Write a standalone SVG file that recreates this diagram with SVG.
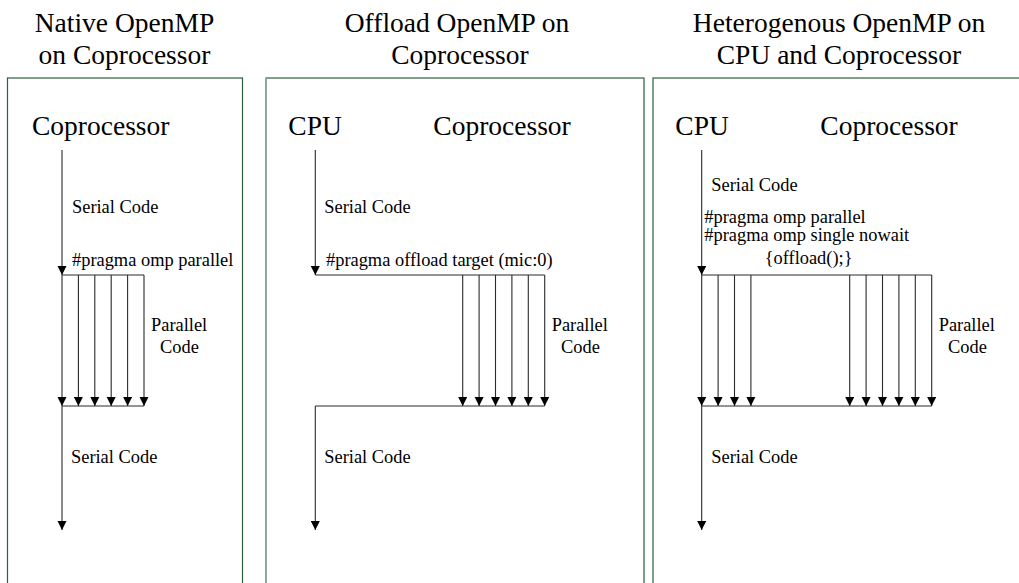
<svg xmlns="http://www.w3.org/2000/svg" width="1019" height="583" viewBox="0 0 1019 583">
  <style>
    text { font-family: "Liberation Serif", "DejaVu Serif", serif; fill: #000; }
    .title { font-size: 27.5px; text-anchor: middle; }
    .head { font-size: 27.5px; }
    .lbl { font-size: 18.4px; }
    .panel { fill: none; stroke: #2f5e3f; stroke-width: 1.2; }
    .flow { fill: none; stroke: #2a2a2a; stroke-width: 1.1; }
    .arr { marker-end: url(#tip); }
  </style>
  <defs>
    <marker id="tip" viewBox="0 0 10 10" refX="10" refY="5" markerWidth="9.5" markerHeight="9.5" markerUnits="userSpaceOnUse" orient="auto">
      <path d="M0,0 L10,5 L0,10 z" fill="#000"/>
    </marker>
  </defs>

  <rect width="1019" height="583" fill="#fff"/>

  <!-- Native OpenMP on the coprocessor -->
  <g id="panel-native">
    <text class="title" x="124.5" y="32">Native OpenMP</text>
    <text class="title" x="124.5" y="64">on Coprocessor</text>
    <rect class="panel" x="7.5" y="78" width="235" height="520"/>
    <text class="head" x="32" y="135">Coprocessor</text>
    <text class="lbl" x="72" y="212.7">Serial Code</text>
    <text class="lbl" x="72" y="265.7">#pragma omp parallel</text>
    <text class="lbl" x="151" y="331">Parallel</text>
    <text class="lbl" x="160" y="352.7">Code</text>
    <text class="lbl" x="71" y="462.7">Serial Code</text>
  </g>

  <!-- Offload OpenMP on the coprocessor -->
  <g id="panel-offload">
    <text class="title" x="457" y="32">Offload OpenMP on</text>
    <text class="title" x="460" y="64">Coprocessor</text>
    <rect class="panel" x="266" y="78" width="378" height="520"/>
    <line x1="266" y1="78" x2="266" y2="583" stroke="#8fa597" stroke-width="2"/>
    <text class="head" x="288.3" y="135">CPU</text>
    <text class="head" x="433.3" y="135">Coprocessor</text>
    <text class="lbl" x="324.3" y="212.7">Serial Code</text>
    <text class="lbl" x="326" y="265.7">#pragma offload target (mic:0)</text>
    <text class="lbl" x="551.7" y="331">Parallel</text>
    <text class="lbl" x="561" y="352.7">Code</text>
    <text class="lbl" x="324.3" y="462.7">Serial Code</text>
  </g>

  <!-- Heterogeneous OpenMP on CPU and coprocessor -->
  <g id="panel-hetero">
    <text class="title" x="839" y="32">Heterogenous OpenMP on</text>
    <text class="title" x="839" y="64">CPU and Coprocessor</text>
    <rect class="panel" x="653" y="78" width="380" height="520"/>
    <text class="head" x="675.3" y="135">CPU</text>
    <text class="head" x="820.3" y="135">Coprocessor</text>
    <text class="lbl" x="711.3" y="191">Serial Code</text>
    <text class="lbl" x="704.3" y="222.7">#pragma omp parallel</text>
    <text class="lbl" x="704.3" y="241.3">#pragma omp single nowait</text>
    <text class="lbl" x="764.7" y="264.3">{offload();}</text>
    <text class="lbl" x="938.7" y="331">Parallel</text>
    <text class="lbl" x="948" y="352.7">Code</text>
    <text class="lbl" x="711.3" y="462.7">Serial Code</text>
  </g>

  <g id="connectors">
    <!-- native -->
    <line class="flow arr" x1="62" y1="150" x2="62" y2="275"/>
    <line class="flow" x1="62" y1="275" x2="144" y2="275"/>
    <line class="flow arr" x1="62" y1="275" x2="62" y2="406"/>
    <line class="flow arr" x1="78.4" y1="275" x2="78.4" y2="406"/>
    <line class="flow arr" x1="94.8" y1="275" x2="94.8" y2="406"/>
    <line class="flow arr" x1="111.2" y1="275" x2="111.2" y2="406"/>
    <line class="flow arr" x1="127.6" y1="275" x2="127.6" y2="406"/>
    <line class="flow arr" x1="144" y1="275" x2="144" y2="406"/>
    <line class="flow" x1="62" y1="406" x2="144" y2="406"/>
    <line class="flow arr" x1="62" y1="406" x2="62" y2="530"/>

    <!-- offload -->
    <line class="flow arr" x1="315.3" y1="150" x2="315.3" y2="275"/>
    <line class="flow" x1="315.3" y1="275" x2="544.7" y2="275"/>
    <line class="flow arr" x1="462.7" y1="275" x2="462.7" y2="406"/>
    <line class="flow arr" x1="479.1" y1="275" x2="479.1" y2="406"/>
    <line class="flow arr" x1="495.5" y1="275" x2="495.5" y2="406"/>
    <line class="flow arr" x1="511.9" y1="275" x2="511.9" y2="406"/>
    <line class="flow arr" x1="528.3" y1="275" x2="528.3" y2="406"/>
    <line class="flow arr" x1="544.7" y1="275" x2="544.7" y2="406"/>
    <line class="flow" x1="315.3" y1="406" x2="544.7" y2="406"/>
    <line class="flow arr" x1="315.3" y1="406" x2="315.3" y2="530"/>

    <!-- heterogeneous -->
    <line class="flow arr" x1="701.7" y1="150" x2="701.7" y2="275"/>
    <line class="flow" x1="701.7" y1="275" x2="931.7" y2="275"/>
    <line class="flow arr" x1="701.7" y1="275" x2="701.7" y2="406"/>
    <line class="flow arr" x1="718.1" y1="275" x2="718.1" y2="406"/>
    <line class="flow arr" x1="734.5" y1="275" x2="734.5" y2="406"/>
    <line class="flow arr" x1="750.9" y1="275" x2="750.9" y2="406"/>
    <line class="flow arr" x1="849.7" y1="275" x2="849.7" y2="406"/>
    <line class="flow arr" x1="866.1" y1="275" x2="866.1" y2="406"/>
    <line class="flow arr" x1="882.5" y1="275" x2="882.5" y2="406"/>
    <line class="flow arr" x1="898.9" y1="275" x2="898.9" y2="406"/>
    <line class="flow arr" x1="915.3" y1="275" x2="915.3" y2="406"/>
    <line class="flow arr" x1="931.7" y1="275" x2="931.7" y2="406"/>
    <line class="flow" x1="701.7" y1="406" x2="931.7" y2="406"/>
    <line class="flow arr" x1="701.7" y1="406" x2="701.7" y2="530"/>
  </g>
</svg>
